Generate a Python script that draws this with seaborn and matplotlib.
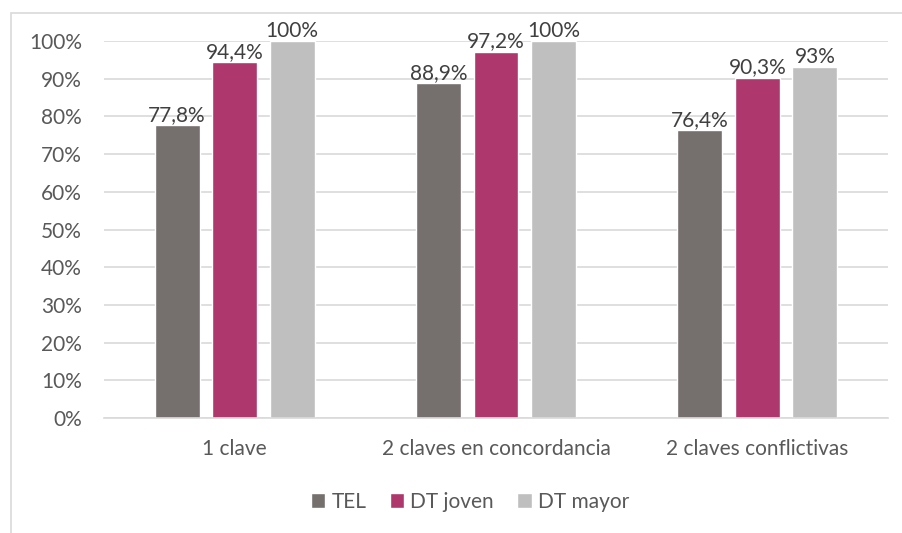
import matplotlib
matplotlib.use("Agg")
import matplotlib.pyplot as plt
import seaborn as sns
import pandas as pd
from matplotlib.patches import Rectangle

categories = ["1 clave", "2 claves en concordancia", "2 claves conflictivas"]
series = ["TEL", "DT joven", "DT mayor"]
tel = [77.8, 88.9, 76.4]
dt_joven = [94.4, 97.2, 90.3]
dt_mayor = [100, 100, 93]
labels_tel = ["77,8%", "88,9%", "76,4%"]
labels_joven = ["94,4%", "97,2%", "90,3%"]
labels_mayor = ["100%", "100%", "93%"]
colors = ["#756F6E", "#AE376D", "#BFBFBF"]

rows = []
for s, vals, labs in zip(series, [tel, dt_joven, dt_mayor],
                         [labels_tel, labels_joven, labels_mayor]):
    for c, v, l in zip(categories, vals, labs):
        rows.append({"cat": c, "serie": s, "val": v / 100, "lab": l})
df = pd.DataFrame(rows)

sns.set_style("white")
plt.rcParams["font.family"] = ["Lato", "DejaVu Sans"]
text_color = "#595959"
fs = 15

fig = plt.figure(figsize=(9.03, 5.33), dpi=100)
ax = fig.add_axes([104 / 903, 1 - 418 / 533, 784 / 903, 377 / 533])

sns.barplot(data=df, x="cat", y="val", hue="serie", order=categories,
            hue_order=series, palette=colors, width=0.66, gap=0.22,
            saturation=1, ax=ax, legend=True)

ax.set_ylim(0, 1)
ax.set_xlim(-0.5, 2.5)
ax.set_yticks([i / 10 for i in range(11)])
ax.set_yticklabels([f"{i * 10}%" for i in range(11)])
ax.yaxis.grid(True, color="#D9D9D9", linewidth=1.2)
ax.set_axisbelow(True)
for side in ["top", "right", "left"]:
    ax.spines[side].set_visible(False)
ax.spines["bottom"].set_color("#D9D9D9")
ax.spines["bottom"].set_linewidth(1.2)
ax.tick_params(axis="both", length=0, labelsize=fs, colors=text_color)
ax.tick_params(axis="y", pad=16)
ax.tick_params(axis="x", pad=15)
ax.set_xlabel("")
ax.set_ylabel("")

for container, labs in zip(ax.containers, [labels_tel, labels_joven, labels_mayor]):
    ax.bar_label(container, labels=labs, padding=0, fontsize=fs, color="#404040")

leg = ax.legend(loc="center", bbox_to_anchor=(470 / 903, 1 - 502 / 533),
                bbox_transform=fig.transFigure, ncol=3, frameon=False,
                fontsize=fs, handlelength=0.7, handleheight=0.7,
                handletextpad=0.3, columnspacing=1.1)
for t in leg.get_texts():
    t.set_color(text_color)

fig.patches.append(Rectangle((11 / 903, -0.1), 1.2, 1 - 13 / 533 + 0.1,
                             transform=fig.transFigure, fill=False,
                             edgecolor="#D9D9D9", linewidth=1.2))

fig.savefig("out.png", dpi=100)
